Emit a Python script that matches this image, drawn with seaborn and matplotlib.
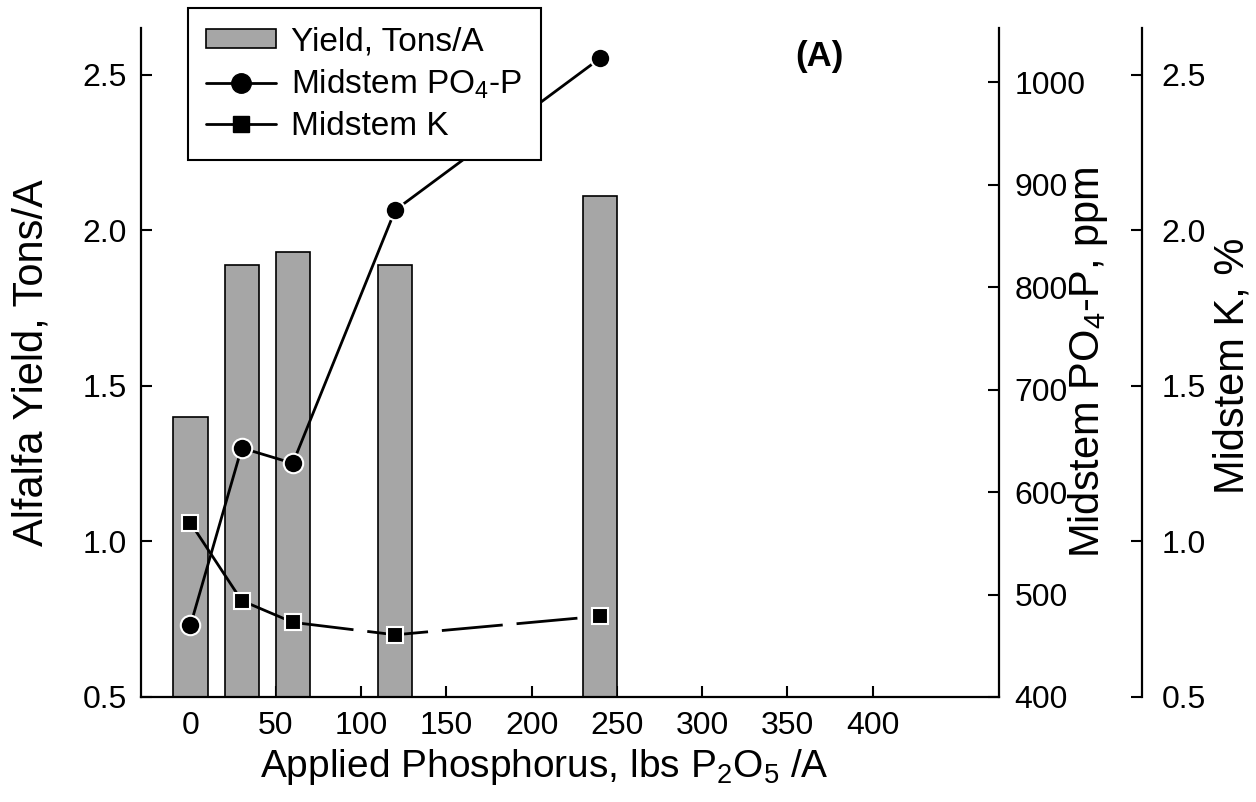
import matplotlib
matplotlib.use("Agg")
import matplotlib.pyplot as plt
import seaborn as sns
import pandas as pd
from matplotlib.patches import Patch
from matplotlib.lines import Line2D

# ---- data ----
p_rate = [0, 30, 60, 120, 240]            # lbs P2O5 / A
yield_tons = [1.40, 1.89, 1.93, 1.89, 2.11]
po4_ppm = [470, 643, 628, 875, 1023]
k_pct = [1.06, 0.81, 0.74, 0.70, 0.76]

x_ticks = [0, 50, 100, 150, 200, 250, 300, 350, 400]
yield_ticks = [0.5, 1.0, 1.5, 2.0, 2.5]
po4_ticks = [400, 500, 600, 700, 800, 900, 1000]
k_ticks = [0.5, 1.0, 1.5, 2.0, 2.5]

sns.set_theme(style="ticks")
plt.rcParams["font.family"] = ["Liberation Sans", "DejaVu Sans"]
plt.rcParams["mathtext.fontset"] = "custom"
plt.rcParams["mathtext.rm"] = "Liberation Sans"
plt.rcParams["mathtext.it"] = "Liberation Sans:italic"
plt.rcParams["mathtext.bf"] = "Liberation Sans:bold"
plt.rcParams["axes.linewidth"] = 1.6

W, H = 1256, 802
fig = plt.figure(figsize=(W / 100, H / 100), dpi=100)
ax = fig.add_axes([141 / W, 1 - 697 / H, 858 / W, 669 / H])

BAR_COLOR = "#a6a6a6"
df = pd.DataFrame({"p": p_rate, "yield": yield_tons})
sns.barplot(data=df, x="p", y="yield", native_scale=True, width=20 / 30,
            color=BAR_COLOR, saturation=1, edgecolor="black", linewidth=1.2,
            errorbar=None, ax=ax, zorder=2)

ax.set_xlim(-29, 474)
ax.set_ylim(0.5, 2.651)
ax.set_xticks(x_ticks)
ax.set_xticklabels([str(t) for t in x_ticks])
ax.set_yticks(yield_ticks)
ax.set_yticklabels([f"{t:.1f}" for t in yield_ticks])

LW = 2.0
ax2 = ax.twinx()
sns.lineplot(x=p_rate, y=po4_ppm, ax=ax2, color="black", lw=LW,
             marker="o", ms=14, mec="white", mew=1.5, zorder=5)
ax2.set_ylim(400, 1052.7)
ax2.set_yticks(po4_ticks)
ax2.set_yticklabels([str(t) for t in po4_ticks])

ax3 = ax.twinx()
ax3.spines["right"].set_position(("axes", (1142 - 141) / 858))
sns.lineplot(x=p_rate[:3], y=k_pct[:3], ax=ax3, color="black", lw=LW,
             marker="s", ms=11, mec="white", mew=1.5, zorder=5)
sns.lineplot(x=p_rate[2:], y=k_pct[2:], ax=ax3, color="black", lw=LW,
             linestyle=(0, (22, 5)),
             marker="s", ms=11, mec="white", mew=1.5, zorder=5)
ax3.set_ylim(0.5, 2.651)
ax3.set_yticks(k_ticks)
ax3.set_yticklabels([f"{t:.1f}" for t in k_ticks])

# spines
for s in ["top", "right"]:
    ax.spines[s].set_visible(False)
for a in (ax2, ax3):
    for s in ["top", "left", "bottom"]:
        a.spines[s].set_visible(False)
    a.spines["right"].set_linewidth(1.6)
    a.spines["right"].set_color("black")
for s in ["left", "bottom"]:
    ax.spines[s].set_color("black")

TS = 23
ax.tick_params(axis="y", direction="in", length=8, width=1.5, labelsize=TS,
               pad=10, colors="black")
ax.tick_params(axis="x", direction="in", length=8, width=1.5, labelsize=TS,
               pad=10, colors="black")
ax2.tick_params(axis="y", direction="in", length=8, width=1.5, labelsize=TS,
                pad=11, colors="black")
ax3.tick_params(axis="y", direction="in", length=8, width=1.5, labelsize=TS,
                pad=14, colors="black")

ax.set_xlabel("Applied Phosphorus, lbs P$_2$O$_5$ /A", fontsize=28, color="black")
ax.xaxis.set_label_coords(0.47, -0.075)
ax.set_ylabel("Alfalfa Yield, Tons/A", fontsize=30, color="black")
ax.yaxis.set_label_coords(-0.104, 0.5)
ax2.set_ylabel("Midstem PO$_4$-P, ppm", fontsize=30, color="black")
ax2.yaxis.set_label_coords(1.078, 0.5)
ax3.set_ylabel("Midstem K, %", fontsize=30, color="black")
ax3.yaxis.set_label_coords(1.249, 0.495)

ax.text(369, 2.56, "(A)", fontsize=25, fontweight="bold", ha="center",
        va="center", color="black")

handles = [
    Patch(facecolor=BAR_COLOR, edgecolor="black", linewidth=1.2),
    Line2D([], [], color="black", lw=LW, marker="o", ms=14),
    Line2D([], [], color="black", lw=LW, marker="s", ms=11),
]
labels = ["Yield, Tons/A", "Midstem PO$_4$-P", "Midstem K"]
leg = fig.legend(handles, labels, loc="upper left",
                 bbox_to_anchor=(188 / W, 1 - 8 / H), fontsize=24,
                 frameon=True, fancybox=False, shadow=False, framealpha=1,
                 edgecolor="black", borderpad=0.55, labelspacing=0.3,
                 handlelength=2.1, handleheight=0.5, handletextpad=0.45,
                 borderaxespad=0)
leg.get_frame().set_linewidth(1.5)
for t in leg.get_texts():
    t.set_color("black")

fig.savefig("out.png", dpi=100, facecolor="white")
